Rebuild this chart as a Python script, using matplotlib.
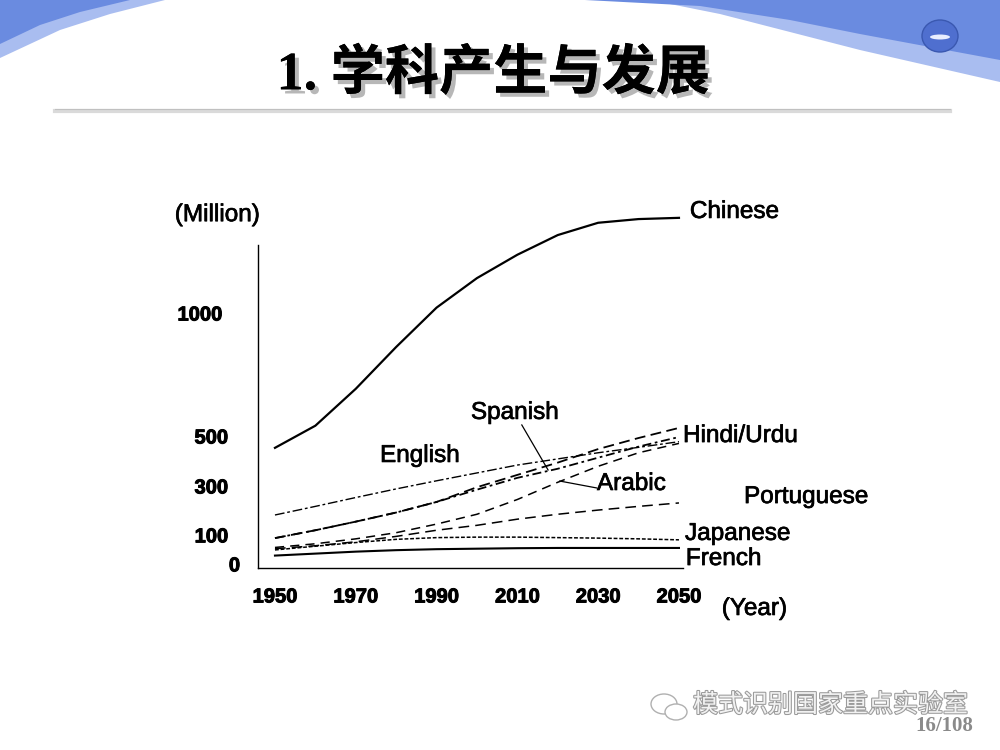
import matplotlib
matplotlib.use("Agg")
import matplotlib.pyplot as plt
import matplotlib.patheffects as pe
from matplotlib.patches import Polygon, Ellipse
from matplotlib.transforms import Affine2D, blended_transform_factory

# ---- data ----
years = [1950, 1960, 1970, 1980, 1990, 2000, 2010, 2020, 2030, 2040, 2050]
chinese = [460, 550, 700, 870, 1030, 1150, 1245, 1325, 1375, 1390, 1395]
english = [187, 222, 258, 293, 326, 358, 390, 415, 440, 462, 485]
hindi_urdu = [93, 125, 160, 197, 240, 300, 350, 400, 455, 500, 541]
spanish = [93, 125, 160, 197, 240, 290, 338, 375, 420, 465, 504]
arabic = [55, 70, 90, 115, 150, 190, 250, 320, 385, 440, 478]
portuguese = [50, 62, 78, 100, 125, 145, 170, 190, 207, 222, 236]
japanese = [45, 60, 75, 88, 95, 97, 97, 95, 93, 90, 86]
french = [22, 30, 38, 44, 48, 50, 52, 53, 53, 53, 53]

xtick_years = [1950, 1970, 1990, 2010, 2030, 2050]
ytick_vals = [1000, 500, 300, 100, 0]
ytick_labels = ["1000", "500", "300", "100", "0"]

plt.rcParams['font.family'] = ['Liberation Sans', 'DejaVu Sans']

fig = plt.figure(figsize=(10, 7.5), dpi=100)
fig.patch.set_facecolor('white')
# pixel coords of the slide -> figure
pix = Affine2D().scale(1 / 1000, -1 / 750).translate(0, 1) + fig.transFigure

# ---- slide decoration: blue header ----
dark_blue = '#6a8be0'
light_blue = '#a9bdf0'
fig.patches.append(Polygon([(560, 0), (1000, 0), (1000, 82), (930, 66), (860, 50),
                            (790, 32), (720, 14), (650, 0)],
                           closed=True, transform=pix, facecolor=light_blue, edgecolor='none'))
fig.patches.append(Polygon([(585, 0), (1000, 0), (1000, 60), (930, 47), (860, 34),
                            (790, 20), (700, 6)],
                           closed=True, transform=pix, facecolor=dark_blue, edgecolor='none'))
fig.patches.append(Polygon([(0, 0), (165, 0), (110, 14), (60, 30), (0, 58)],
                           closed=True, transform=pix, facecolor=light_blue, edgecolor='none'))
fig.patches.append(Polygon([(0, 0), (130, 0), (80, 12), (40, 25), (0, 44)],
                           closed=True, transform=pix, facecolor=dark_blue, edgecolor='none'))
fig.patches.append(Ellipse((940, 36), 36, 32, transform=pix, facecolor='#4f6fcf',
                           edgecolor='#3a58b0', lw=1))
fig.patches.append(Ellipse((940, 37), 20, 5, transform=pix, facecolor='#e8eeff', edgecolor='none'))

# title + rule
fig.text(493 / 1000, 1 - 75 / 750, "1. 学科产生与发展", ha='center', va='center',
         fontsize=39, fontweight='bold', family=['Liberation Serif', 'Noto Sans CJK SC'],
         path_effects=[pe.withSimplePatchShadow(offset=(3, -3), shadow_rgbFace='#888888', alpha=0.6),
                       pe.Normal()])
fig.add_artist(plt.Line2D([55, 950], [111, 111], transform=pix, color='#dadada', lw=3))
fig.add_artist(plt.Line2D([55, 950], [109, 109], transform=pix, color='#c0c0c0', lw=0.8))

# ---- chart ----
ax = fig.add_axes([0.258, 1 - 568 / 750, (683 - 258) / 1000, (568 - 245) / 750])
ax.set_xlim(1945.8, 2051)
ax.set_ylim(-28.5, 1284.6)
for s in ['top', 'right']:
    ax.spines[s].set_visible(False)
for s in ['left', 'bottom']:
    ax.spines[s].set_linewidth(1.0)
    ax.spines[s].set_color('black')

kw = dict(color='black', clip_on=False)
ax.plot(years, chinese, lw=1.6, **kw)
ax.plot(years, english, lw=1.0, dashes=(7, 2, 2, 2), **kw)
ax.plot(years, hindi_urdu, lw=1.3, dashes=(6, 3), **kw)
ax.plot(years, spanish, lw=1.3, dashes=(5, 2, 1.5, 2), **kw)
ax.plot(years, arabic, lw=1.1, dashes=(6, 4), **kw)
ax.plot(years, portuguese, lw=1.1, dashes=(7, 4), **kw)
ax.plot(years, japanese, lw=1.1, dashes=(2.5, 1.2), **kw)
ax.plot(years, french, lw=1.5, **kw)

tick_font = ['Liberation Sans Narrow', 'Liberation Sans', 'DejaVu Sans']
bold_fx = [pe.withStroke(linewidth=0.7, foreground='black')]
ax.set_xticks(xtick_years)
ax.set_xticklabels([str(y) for y in xtick_years], family=tick_font, fontweight='bold',
                   fontsize=14.5, path_effects=bold_fx)
ax.tick_params(axis='x', length=0, pad=14)
ax.set_yticks([])

# y labels are not aligned on the slide, place each one
ytrans = blended_transform_factory(ax.transAxes, ax.transData)
ylab_x = {"1000": 222, "500": 228, "300": 228, "100": 228, "0": 240}
ylab_y = {"1000": 1000, "500": 500, "300": 297, "100": 98, "0": -20}
for lab in ytick_labels:
    ax.text((ylab_x[lab] - 258) / 425, ylab_y[lab], lab, transform=ytrans, ha='right', va='center',
            family=tick_font, fontweight='bold', fontsize=14.5, clip_on=False, path_effects=bold_fx)

lab_kw = dict(fontsize=17.5, va='center', ha='left', clip_on=False,
              path_effects=[pe.withStroke(linewidth=0.5, foreground='black')])
ax.text(2052.7, 1419, "Chinese", **lab_kw)
ax.text(2051.0, 508, "Hindi/Urdu", **lab_kw)
ax.text(2066.1, 260, "Portuguese", **lab_kw)
ax.text(2051.5, 110, "Japanese", **lab_kw)
ax.text(2051.7, 8, "French", **lab_kw)
ax.text(1976.0, 427, "English", **lab_kw)
ax.text(1998.5, 602, "Spanish", **lab_kw)
ax.text(2029.7, 313, "Arabic", **lab_kw)
ax.text(1925.2, 1406, "(Million)", **lab_kw)
ax.text(2060.6, -195, "(Year)", **lab_kw)

# pointers
ax.plot([2011.1, 2017.6], [553, 370], color='black', lw=0.9, clip_on=False)
ax.plot([2029.6, 2020.5], [297, 325], color='black', lw=0.9, clip_on=False)

# ---- watermark / page number ----
fig.patches.append(Ellipse((664, 704), 26, 20, transform=pix, facecolor='none', edgecolor='#b0b0b0', lw=1))
fig.patches.append(Ellipse((676, 712), 22, 16, transform=pix, facecolor='white', edgecolor='#b0b0b0', lw=1))
fig.text(693 / 1000, 1 - 705 / 750, "模式识别国家重点实验室", ha='left', va='center', fontsize=18,
         family=['Noto Sans CJK SC'], color='#f2f2f2',
         path_effects=[pe.withStroke(linewidth=1.5, foreground='#9a9a9a')])
fig.text(973 / 1000, 1 - 726 / 750, "16/108", ha='right', va='center', fontsize=15,
         family=['Liberation Serif'], fontweight='bold', color='#8a8a8a')

fig.savefig('out.png', dpi=100)
